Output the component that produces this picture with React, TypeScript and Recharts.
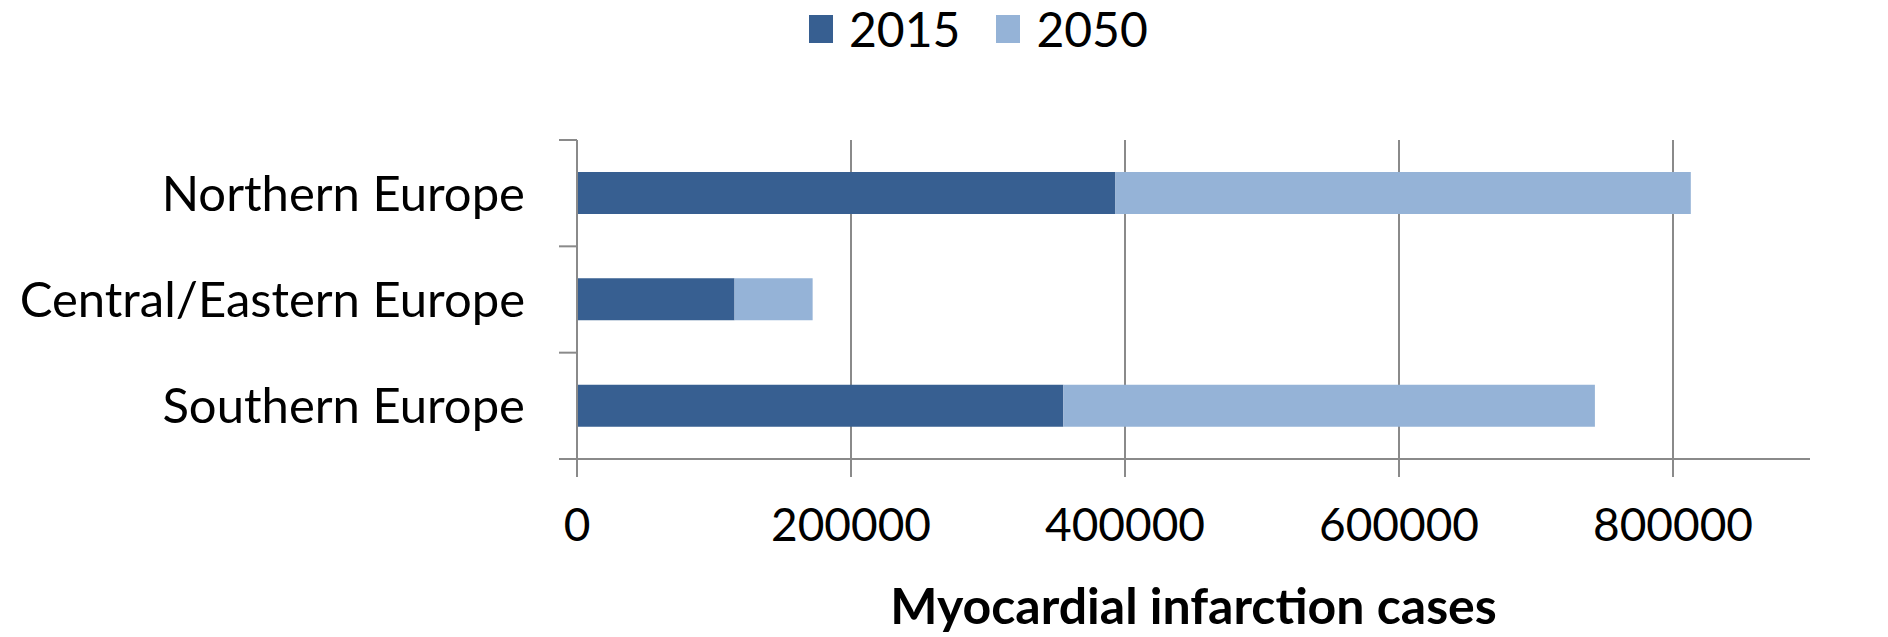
import { Bar, BarChart, CartesianGrid, Legend, XAxis, YAxis } from 'recharts'

const regions = ['Northern Europe', 'Central/Eastern Europe', 'Southern Europe']
const cases2015 = [393000, 115000, 355000]
const cases2050 = [420000, 57000, 388000]
const xTicks = [0, 200000, 400000, 600000, 800000]

const data = regions.map((region, i) => ({
  region,
  y2015: cases2015[i],
  y2050: cases2050[i],
}))

const W = 1888
const H = 637
const TOP = 140
const AXIS_X = 577
const RIGHT = 78
const X_AXIS_H = 178
const PLOT_H = H - TOP - X_AXIS_H
const BAND = PLOT_H / regions.length

const DARK = '#375f91'
const LIGHT = '#95b3d7'
const GRID = '#8a8a8a'
const FONT = 'Lato, "Open Sans", sans-serif'

function RegionTick({ y, payload, index }: any) {
  const top = y - BAND / 2
  return (
    <g>
      <line x1={AXIS_X - 18} x2={AXIS_X} y1={top} y2={top} stroke={GRID} strokeWidth={2} />
      {index === regions.length - 1 && (
        <line x1={AXIS_X - 18} x2={AXIS_X} y1={y + BAND / 2} y2={y + BAND / 2} stroke={GRID} strokeWidth={2} />
      )}
      <text x={AXIS_X - 52} y={y} dy="0.36em" textAnchor="end" fontSize={49} fill="#000" fontFamily={FONT}>
        {payload.value}
      </text>
    </g>
  )
}

function LegendBox() {
  const items = [
    { label: '2015', color: DARK },
    { label: '2050', color: LIGHT },
  ]
  return (
    <div style={{ display: 'flex', alignItems: 'center', fontFamily: FONT, fontSize: 48, color: '#000' }}>
      {items.map((it) => (
        <div key={it.label} style={{ display: 'flex', alignItems: 'center', marginRight: 36 }}>
          <span style={{ display: 'inline-block', width: 24, height: 28, background: it.color, marginRight: 16 }} />
          <span>{it.label}</span>
        </div>
      ))}
    </div>
  )
}

export default function App() {
  return (
    <div style={{ position: 'absolute', left: 0, top: 0, width: W, height: H, background: '#fff' }}>
      <BarChart
        width={W}
        height={H}
        data={data}
        layout="vertical"
        barSize={42}
        margin={{ top: TOP, right: RIGHT, left: 0, bottom: 0 }}
      >
        <CartesianGrid horizontal={false} syncWithTicks stroke={GRID} strokeWidth={2} />
        <XAxis
          type="number"
          domain={[0, 900000]}
          ticks={xTicks}
          allowDataOverflow
          height={X_AXIS_H}
          tickSize={18}
          tickMargin={31}
          axisLine={{ stroke: GRID, strokeWidth: 2 }}
          tickLine={{ stroke: GRID, strokeWidth: 2 }}
          tick={{ fontSize: 46, fill: '#000', fontFamily: FONT }}
          label={{
            value: 'Myocardial infarction cases',
            position: 'insideBottom',
            offset: 13,
            fontSize: 50,
            fontWeight: 700,
            fill: '#000',
            fontFamily: FONT,
          }}
        />
        <YAxis
          type="category"
          dataKey="region"
          width={AXIS_X}
          axisLine={{ stroke: GRID, strokeWidth: 2 }}
          tickLine={false}
          tick={<RegionTick />}
          interval={0}
        />
        <Legend
          verticalAlign="middle"
          content={<LegendBox />}
          wrapperStyle={{ top: 0, left: 809, width: 'auto' }}
        />
        <Bar dataKey="y2015" name="2015" stackId="a" fill={DARK} isAnimationActive={false} />
        <Bar dataKey="y2050" name="2050" stackId="a" fill={LIGHT} isAnimationActive={false} />
      </BarChart>
    </div>
  )
}
